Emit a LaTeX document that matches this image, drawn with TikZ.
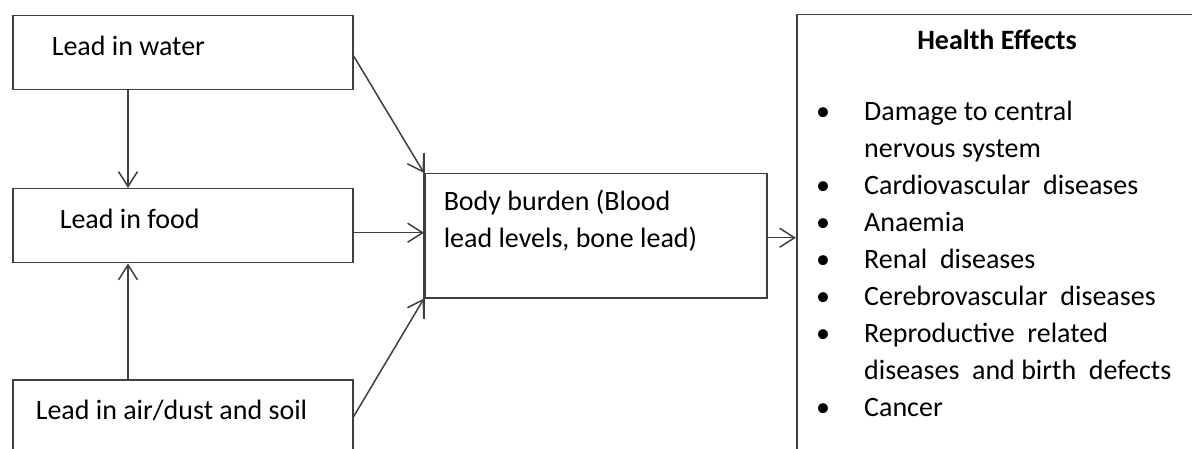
\documentclass[tikz,border=0pt]{standalone}
\usepackage{fontspec}
\setmainfont{Carlito}
\usetikzlibrary{arrows.meta}
\definecolor{linegray}{HTML}{3F3F3F}
\tikzset{
  box/.style={draw=linegray, line width=1.5pt, inner sep=0pt},
  source/.style={box, text width=300pt, inner xsep=20pt, minimum height=74pt,
    align=flush left, text height=20pt, text depth=14pt, anchor=north west},
  flow/.style={draw=linegray, line width=1.5pt, -{Straight Barb[length=15pt,width=19pt]}},
}
\begin{document}
\begin{tikzpicture}[x=1pt, y=-1pt, font=\fontsize{28}{37}\selectfont]
    \useasboundingbox (0,0) rectangle (1192,449);

    % Sources of lead
    \node[source] (water) at (12,15) {\hspace*{19pt}Lead in water};
    \node[source] (food) at (12,188) {\hspace*{27pt}Lead in food};
    \node[source] (air) at (12,379) {\hspace*{3pt}Lead in air/dust and soil};

    % Body burden
    \node[box, anchor=north west, minimum width=342pt, minimum height=124pt,
      text width=304pt, inner xsep=19pt, align=flush left, text height=20pt, text depth=70pt]
      (body) at (424,173) {Body burden (Blood\\lead levels,\ bone lead)};
    \draw[linegray, line width=1.5pt] ([yshift=20pt]body.north west) -- ([yshift=-20pt]body.south west);

    % Health effects
    \node[box, anchor=north west, minimum width=430pt, minimum height=460pt] (health) at (796,14) {};
    \node[anchor=base, font=\fontsize{28}{37}\selectfont\bfseries] (title) at (997,50) {Health Effects};
    \node[anchor=base west, inner sep=0pt] (effects) at (816,121) {%
      \begin{tabular}[t]{@{}p{48pt}@{}l@{}}
        \textbullet & Damage to central\\
                    & nervous system\\
        \textbullet & Cardiovascular\ \ diseases\\
        \textbullet & Anaemia\\
        \textbullet & Renal\ \ diseases\\
        \textbullet & Cerebrovascular\ \ diseases\\
        \textbullet & Reproductive\ \ related\\
                    & diseases\ \ and birth\ \ defects\\
        \textbullet & Cancer
      \end{tabular}};

    % Arrows
    \draw[flow] ([xshift=116pt]water.south west) -- ([xshift=116pt]food.north west);
    \draw[flow] ([xshift=116pt]air.north west) -- ([xshift=116pt]food.south west);
    \draw[flow] ([yshift=-3pt]water.east) -- (body.north west);
    \draw[flow] ([yshift=-7pt]food.east) -- ([yshift=-7pt]food.east -| body.west);
    \draw[flow] (air.east) -- (body.south west);
    \draw[flow] ([yshift=-2pt]body.east) -- ([yshift=-2pt]body.east -| health.west);
\end{tikzpicture}
\end{document}
